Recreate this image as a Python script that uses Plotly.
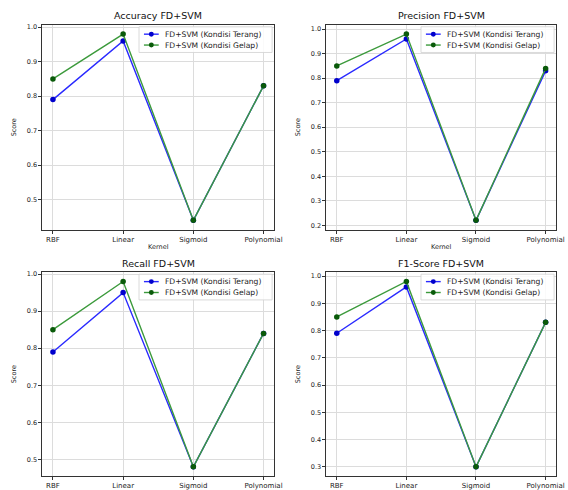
import plotly.graph_objects as go

kernels = ["RBF", "Linear", "Sigmoid", "Polynomial"]

acc_terang = [0.79, 0.96, 0.44, 0.83]
acc_gelap = [0.85, 0.98, 0.44, 0.83]

prec_terang = [0.79, 0.96, 0.22, 0.83]
prec_gelap = [0.85, 0.98, 0.22, 0.84]

rec_terang = [0.79, 0.95, 0.48, 0.84]
rec_gelap = [0.85, 0.98, 0.48, 0.84]

f1_terang = [0.79, 0.96, 0.30, 0.83]
f1_gelap = [0.85, 0.98, 0.30, 0.83]

titles = ["Accuracy FD+SVM", "Precision FD+SVM", "Recall FD+SVM", "F1-Score FD+SVM"]
series = [(acc_terang, acc_gelap), (prec_terang, prec_gelap),
          (rec_terang, rec_gelap), (f1_terang, f1_gelap)]
names = ["FD+SVM (Kondisi Terang)", "FD+SVM (Kondisi Gelap)"]
line_colors = ["#2a2aff", "#3c9a3c"]
marker_colors = ["#0000cc", "#0a5a0a"]

W, H = 568, 490
# pixel boxes: (left, right, top, bottom)
boxes = [(43, 278, 23, 230), (331, 564, 23, 230),
         (43, 278, 273, 479), (331, 564, 273, 479)]

FONT = "DejaVu Sans"
fig = go.Figure()
layout = dict(width=W, height=H, margin=dict(l=0, r=0, t=0, b=0),
              paper_bgcolor="white", plot_bgcolor="white",
              font=dict(family=FONT, size=7, color="#222"),
              showlegend=False)
annotations = []
shapes = []


def px(xp):
    return xp / W


def py(yp):
    return 1 - yp / H


for i, (box, title, pair) in enumerate(zip(boxes, titles, series)):
    l, r, t, b = box
    xa = "xaxis" if i == 0 else f"xaxis{i+1}"
    ya = "yaxis" if i == 0 else f"yaxis{i+1}"
    xr = "x" if i == 0 else f"x{i+1}"
    yr = "y" if i == 0 else f"y{i+1}"
    for k, s in enumerate(pair):
        fig.add_trace(go.Scatter(x=kernels, y=s, mode="lines+markers", name=names[k],
                                 line=dict(color=line_colors[k], width=1.4),
                                 marker=dict(color=marker_colors[k], size=5.5),
                                 xaxis=xr, yaxis=yr))
    allv = list(pair[0]) + list(pair[1])
    lo, hi = min(allv), max(allv)
    span = hi - lo
    xtitle = dict(text="Kernel", font=dict(size=6.5), standoff=1) if i < 2 else None
    layout[xa] = dict(domain=[px(l), px(r)], anchor=yr, range=[-0.15, 3.15],
                      type="category", showline=True, mirror=True, linecolor="#333",
                      linewidth=0.8, ticks="outside", ticklen=3, tickcolor="#333",
                      showgrid=True, gridcolor="#dcdcdc", gridwidth=0.7,
                      tickfont=dict(size=7), zeroline=False, title=xtitle)
    layout[ya] = dict(domain=[py(b), py(t)], anchor=xr,
                      range=[lo - 0.05 * span, hi + 0.05 * span],
                      dtick=0.1, tick0=0, tickformat=".1f",
                      showline=True, mirror=True, linecolor="#333", linewidth=0.8,
                      ticks="outside", ticklen=3, tickcolor="#333",
                      showgrid=True, gridcolor="#dcdcdc", gridwidth=0.7,
                      tickfont=dict(size=6.5), zeroline=False,
                      title=dict(text="Score", font=dict(size=6.5), standoff=9))
    annotations.append(dict(text=title, x=px((l + r) / 2), y=py(t - 9),
                            xref="paper", yref="paper", showarrow=False,
                            xanchor="center", yanchor="middle",
                            font=dict(size=9.5, color="#111")))
    # legend box (layout element, drawn in paper coordinates)
    lw, lh = 135, 26
    lx1 = r - 2
    lx0 = lx1 - lw
    ly0 = t + 2
    ly1 = ly0 + lh
    shapes.append(dict(type="rect", xref="paper", yref="paper",
                       x0=px(lx0), x1=px(lx1), y0=py(ly1), y1=py(ly0),
                       line=dict(color="#d0d0d0", width=0.8),
                       fillcolor="rgba(255,255,255,0.85)", layer="above"))
    for k in range(2):
        rowy = ly0 + 7.5 + k * 11
        shapes.append(dict(type="line", xref="paper", yref="paper",
                           x0=px(lx0 + 5), x1=px(lx0 + 20), y0=py(rowy), y1=py(rowy),
                           line=dict(color=line_colors[k], width=1.4), layer="above"))
        shapes.append(dict(type="circle", xref="paper", yref="paper",
                           x0=px(lx0 + 10), x1=px(lx0 + 15),
                           y0=py(rowy + 2.5), y1=py(rowy - 2.5),
                           line=dict(color=marker_colors[k], width=0),
                           fillcolor=marker_colors[k], layer="above"))
        annotations.append(dict(text=names[k], x=px(lx0 + 24), y=py(rowy),
                                xref="paper", yref="paper", showarrow=False,
                                xanchor="left", yanchor="middle",
                                font=dict(size=7.6, color="#222")))

layout["annotations"] = annotations
layout["shapes"] = shapes
fig.update_layout(**layout)
fig.write_html("out.html", config={"displayModeBar": False},
               post_script="document.body.style.margin='0';document.body.style.overflow='hidden';")
